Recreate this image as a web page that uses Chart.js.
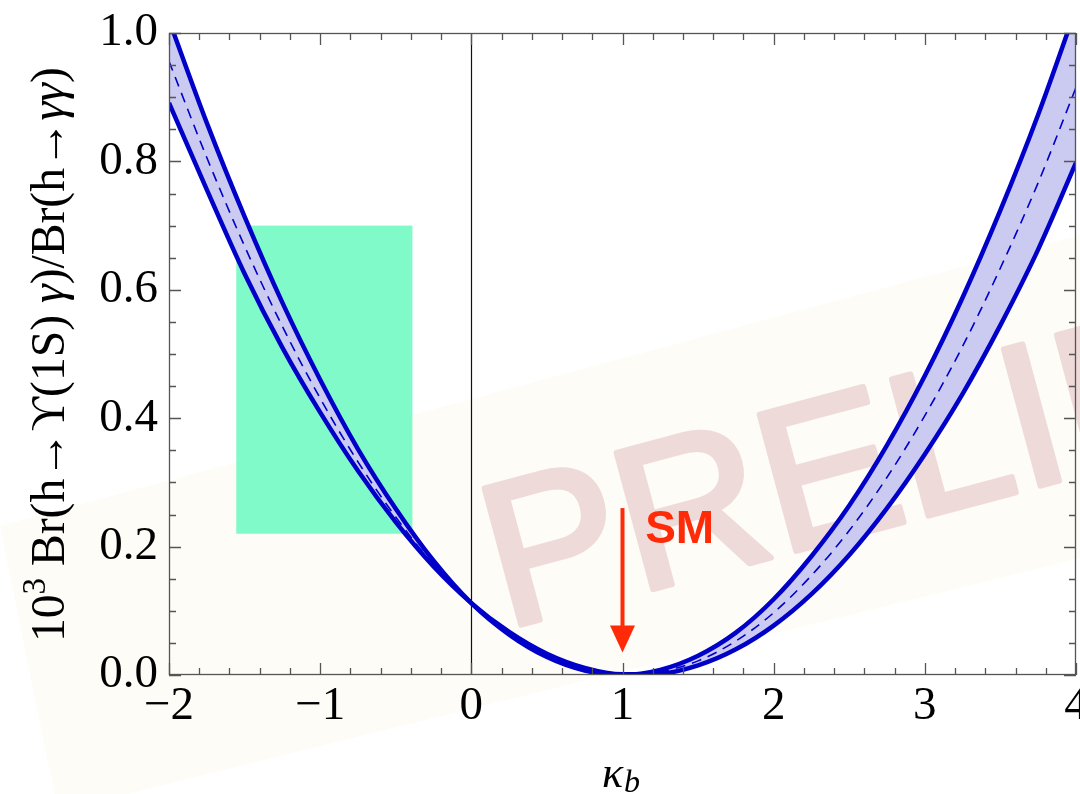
<!DOCTYPE html>
<html>
<head>
<meta charset="utf-8">
<script src="https://cdn.jsdelivr.net/npm/chart.js@4.4.0/dist/chart.umd.min.js"></script>
<style>
  html, body { margin:0; padding:0; background:#fff; }
  #wrap { width:1080px; height:794px; }
</style>
</head>
<body>
<div id="wrap"><canvas id="chart" width="1080" height="794"></canvas></div>
<script>
// kappa_b grid and the three curves
const kappa   = [-2, -1.75, -1.5, -1.25, -1, -0.75, -0.5, -0.25, 0, 0.25, 0.5, 0.75, 1, 1.25, 1.5, 1.75, 2, 2.25, 2.5, 2.75, 3, 3.25, 3.5, 3.75, 4];
const upper   = [1.020, 0.860, 0.714, 0.580, 0.460, 0.352, 0.259, 0.178, 0.112, 0.063, 0.028, 0.007, 0.000, 0.008, 0.030, 0.066, 0.118, 0.185, 0.264, 0.358, 0.466, 0.588, 0.724, 0.873, 1.038];
const central = [0.956, 0.806, 0.668, 0.543, 0.431, 0.332, 0.246, 0.172, 0.112, 0.065, 0.030, 0.009, 0.000, 0.005, 0.022, 0.053, 0.097, 0.155, 0.225, 0.308, 0.404, 0.512, 0.634, 0.767, 0.915];
const lower   = [0.891, 0.756, 0.625, 0.510, 0.409, 0.318, 0.238, 0.169, 0.112, 0.067, 0.033, 0.011, 0.001, 0.002, 0.015, 0.040, 0.077, 0.126, 0.187, 0.260, 0.344, 0.438, 0.545, 0.663, 0.798];

// allowed region (green box) and SM marker
const boxX = [-1.555, -0.39];
const boxY = [0.22, 0.70];
const smX = 1, smFrom = 0.26, smTo = 0.035;
const smLabel = 'SM', smLabelX = 1.15, smLabelY = 0.206;

const xTickVals = [-2, -1, 0, 1, 2, 3, 4];
const yTickVals = [0, 0.2, 0.4, 0.6, 0.8, 1.0];

const BLUE = '#0000c8';
const RED = '#ff2a08';
const pts = arr => kappa.map((k, i) => ({x: k, y: arr[i]}));

const deco = {
  id: 'deco',
  beforeDraw(chart) {
    const {ctx, chartArea: a, scales: {x, y}} = chart;
    ctx.save();
    // pale band behind the watermark
    ctx.fillStyle = '#fefcf6';
    ctx.beginPath();
    ctx.moveTo(0, 526); ctx.lineTo(1080, 235); ctx.lineTo(1080, 558); ctx.lineTo(58, 811);
    ctx.closePath(); ctx.fill();
    ctx.translate(505, 629);
    ctx.rotate(-15 * Math.PI / 180);
    ctx.font = '205px "Liberation Sans"';
    ctx.fillStyle = '#efdada';
    ctx.strokeStyle = '#efdada';
    ctx.lineWidth = 6;
    ctx.lineJoin = 'round';
    ctx.fillText('PRELIMINARY', 0, 0);
    ctx.strokeText('PRELIMINARY', 0, 0);
    ctx.restore();

    // green box
    ctx.save();
    ctx.fillStyle = '#80fac8';
    const x0 = x.getPixelForValue(boxX[0]), x1 = x.getPixelForValue(boxX[1]);
    const y0 = y.getPixelForValue(boxY[1]), y1 = y.getPixelForValue(boxY[0]);
    ctx.fillRect(x0, y0, x1 - x0, y1 - y0);
    // vertical axis at kappa = 0
    const zx = Math.round(x.getPixelForValue(0)) + 0.5;
    ctx.strokeStyle = '#111'; ctx.lineWidth = 1.2;
    ctx.beginPath(); ctx.moveTo(zx, a.top); ctx.lineTo(zx, a.bottom); ctx.stroke();
    ctx.restore();
  },
  afterDatasetsDraw(chart) {
    const {ctx, chartArea: a, scales: {x, y}} = chart;
    ctx.save();
    // frame + inward ticks
    ctx.strokeStyle = '#555'; ctx.lineWidth = 1.3;
    ctx.strokeRect(a.left + 0.5, a.top + 0.5, a.right - a.left - 1, a.bottom - a.top - 1);
    ctx.beginPath();
    for (let i = 0; i <= 30; i++) {
      const v = -2 + i * 0.2;
      const len = (i % 5 === 0) ? 12 : 7;
      const px = Math.round(x.getPixelForValue(v)) + 0.5;
      ctx.moveTo(px, a.bottom); ctx.lineTo(px, a.bottom - len);
      ctx.moveTo(px, a.top); ctx.lineTo(px, a.top + len);
    }
    for (let i = 0; i <= 20; i++) {
      const v = i * 0.05;
      const len = (i % 4 === 0) ? 12 : 7;
      const py = Math.round(y.getPixelForValue(v)) + 0.5;
      ctx.moveTo(a.left, py); ctx.lineTo(a.left + len, py);
      ctx.moveTo(a.right, py); ctx.lineTo(a.right - len, py);
    }
    ctx.stroke();

    // SM arrow
    const ax = x.getPixelForValue(smX);
    const ay0 = y.getPixelForValue(smFrom), ay1 = y.getPixelForValue(smTo);
    ctx.strokeStyle = RED; ctx.fillStyle = RED; ctx.lineWidth = 4;
    ctx.beginPath(); ctx.moveTo(ax, ay0); ctx.lineTo(ax, ay1 - 24); ctx.stroke();
    ctx.beginPath();
    ctx.moveTo(ax - 12.5, ay1 - 27); ctx.lineTo(ax + 12.5, ay1 - 27); ctx.lineTo(ax, ay1);
    ctx.closePath(); ctx.fill();
    ctx.font = 'bold 46px "Liberation Sans"';
    ctx.textBaseline = 'alphabetic'; ctx.textAlign = 'left';
    ctx.fillText(smLabel, x.getPixelForValue(smLabelX), y.getPixelForValue(smLabelY));
    ctx.restore();

    // y title (rotated, with superscript)
    const parts = [['10', 'n'], ['3', 'sup'], [' Br(h\u2192\u03d2(1S) ', 'n'], ['\u03b3', 'i'],
                   [')/Br(h\u2192', 'n'], ['\u03b3\u03b3', 'i'], [')', 'n']];
    const fontFor = (k, fs) => k === 'i' ? `italic ${fs}px "Liberation Serif"`
      : k === 'sup' ? `${Math.round(fs * 0.7)}px "Liberation Serif"` : `${fs}px "Liberation Serif"`;
    let fs = 46, total = 0;
    parts.forEach(([t, k]) => { ctx.font = fontFor(k, fs); total += ctx.measureText(t).width; });
    fs = fs * 575 / total;
    ctx.save();
    ctx.translate(64, 642);
    ctx.rotate(-Math.PI / 2);
    ctx.fillStyle = '#000'; ctx.textBaseline = 'alphabetic'; ctx.textAlign = 'left';
    let cx = 0;
    parts.forEach(([t, k]) => {
      ctx.font = fontFor(k, fs);
      ctx.fillText(t, cx, k === 'sup' ? -fs * 0.4 : 0);
      cx += ctx.measureText(t).width;
    });
    ctx.restore();

    // x title kappa_b
    ctx.save();
    ctx.fillStyle = '#000'; ctx.textAlign = 'left'; ctx.textBaseline = 'alphabetic';
    ctx.font = 'italic 44px "Liberation Serif"';
    const kx = 602;
    ctx.fillText('\u03ba', kx, 787);
    const kw = ctx.measureText('\u03ba').width;
    ctx.font = 'italic 32px "Liberation Serif"';
    ctx.fillText('b', kx + kw + 1, 792);
    ctx.restore();
  }
};

new Chart(document.getElementById('chart'), {
  type: 'line',
  data: {
    datasets: [
      { data: pts(upper), borderColor: BLUE, borderWidth: 4.5, pointRadius: 0,
        fill: '+1', backgroundColor: '#cbcbf2', cubicInterpolationMode: 'monotone', clip: 0 },
      { data: pts(lower), borderColor: BLUE, borderWidth: 4.5, pointRadius: 0,
        fill: false, cubicInterpolationMode: 'monotone', clip: 0 },
      { data: pts(central), borderColor: BLUE, borderWidth: 1.6, borderDash: [10, 7], pointRadius: 0,
        fill: false, cubicInterpolationMode: 'monotone', clip: 0 }
    ]
  },
  options: {
    responsive: false,
    animation: false,
    layout: { padding: { left: 0, top: 33, right: 4, bottom: 0 } },
    plugins: {
      legend: { display: false },
      tooltip: { enabled: false },
      filler: { drawTime: 'beforeDatasetsDraw' }
    },
    scales: {
      x: {
        type: 'linear', min: -2, max: 4,
        grid: { display: false, drawTicks: false },
        border: { display: false },
        afterBuildTicks: s => { s.ticks = xTickVals.map(v => ({value: v})); },
        ticks: {
          padding: 3, color: '#000', maxRotation: 0, autoSkip: false,
          font: { family: 'Liberation Serif', size: 47 },
          callback: v => v < 0 ? '\u2212' + Math.abs(v) : String(v)
        },
        afterFit: s => { s.height = 119; s.paddingLeft = 0; s.paddingRight = 0; }
      },
      y: {
        type: 'linear', min: 0, max: 1,
        grid: { display: false, drawTicks: false },
        border: { display: false },
        afterBuildTicks: s => { s.ticks = yTickVals.map(v => ({value: v})); },
        ticks: {
          padding: 11, color: '#000', autoSkip: false,
          font: { family: 'Liberation Serif', size: 47 },
          callback: v => Number(v).toFixed(1)
        },
        afterFit: s => { s.width = 169; s.paddingTop = 0; s.paddingBottom = 0; }
      }
    }
  },
  plugins: [deco]
});
</script>
</body>
</html>
